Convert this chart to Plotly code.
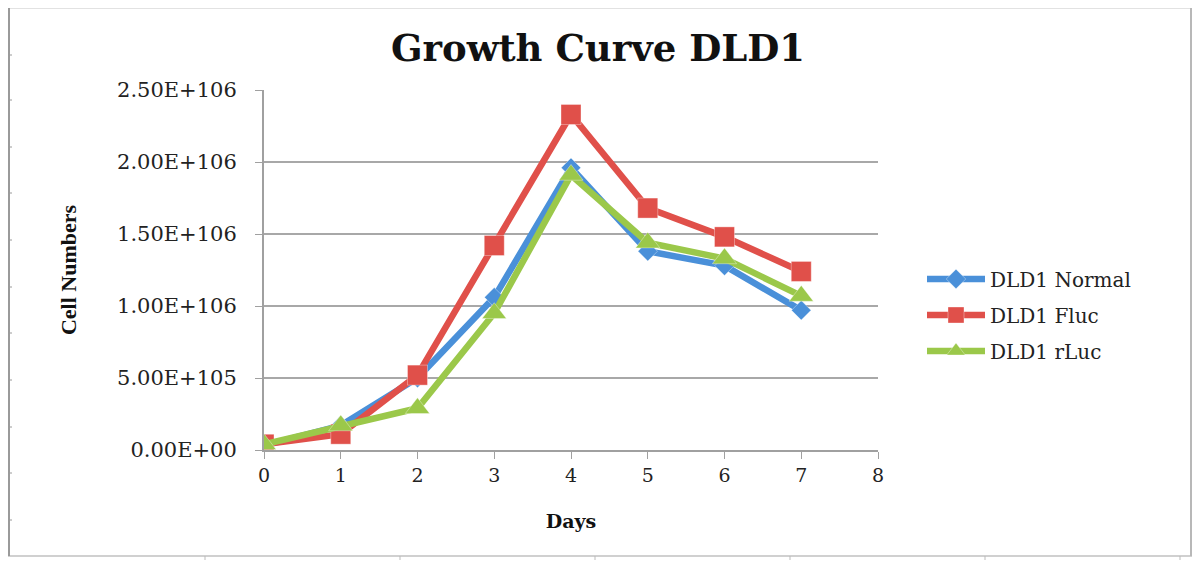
import plotly.graph_objects as go

days = [0, 1, 2, 3, 4, 5, 6, 7]
normal = [0.03e6, 0.17e6, 0.50e6, 1.06e6, 1.96e6, 1.38e6, 1.28e6, 0.97e6]
fluc = [0.04e6, 0.11e6, 0.52e6, 1.42e6, 2.33e6, 1.68e6, 1.48e6, 1.24e6]
rluc = [0.04e6, 0.17e6, 0.29e6, 0.95e6, 1.91e6, 1.44e6, 1.33e6, 1.07e6]

y_tickvals = [0, 0.5e6, 1.0e6, 1.5e6, 2.0e6, 2.5e6]
y_ticktext = ["0.00E+00", "5.00E+105", "1.00E+106", "1.50E+106", "2.00E+106", "2.50E+106"]
x_tickvals = [0, 1, 2, 3, 4, 5, 6, 7, 8]

series = [
    ("DLD1 Normal", normal, "#4a90d9", "diamond", 15, "legend"),
    ("DLD1 Fluc", fluc, "#e0504a", "square", 20, "legend2"),
    ("DLD1 rLuc", rluc, "#9bc84a", "triangle-up", 21, "legend3"),
]

fig = go.Figure()
for name, vals, col, sym, sz, lg in series:
    fig.add_trace(go.Scatter(
        x=days, y=vals, name=name, mode="lines+markers",
        line=dict(color=col, width=6.5),
        marker=dict(symbol=sym, size=sz, color=col,
                    line=dict(color="rgba(255,255,255,0.35)", width=1)),
        legend=lg,
    ))

serif = "DejaVu Serif"
# page has 8px body offset: figure coords = screen coords - 8
FW, FH = 1192, 557
L, R, T, B = 256, 870, 82, 442
pw, ph = R - L, B - T

def px(sx):
    return (sx - 8 - L) / pw

def py(sy):
    return (B - (sy - 8)) / ph

leg_common = dict(xanchor="left", yanchor="middle",
                  font=dict(family=serif, size=20, color="#222"),
                  bgcolor="rgba(0,0,0,0)", itemwidth=58)

fig.update_layout(
    width=FW, height=FH,
    paper_bgcolor="white", plot_bgcolor="white",
    margin=dict(l=L, r=FW - R, t=T, b=FH - B),
    title=dict(text="<b>Growth Curve DLD1</b>", x=px(598), xanchor="center",
               xref="paper", y=1 - (48 - 8) / FH, yanchor="middle",
               font=dict(family=serif, size=37, color="#111")),
    showlegend=True,
    legend=dict(x=px(922), y=py(279), **leg_common),
    legend2=dict(x=px(922), y=py(315), **leg_common),
    legend3=dict(x=px(922), y=py(351), **leg_common),
    xaxis=dict(range=[0, 8], tickvals=x_tickvals, showgrid=False,
               showline=True, linecolor="#a0a0a0", linewidth=2,
               ticks="outside", ticklen=7, tickcolor="#a0a0a0",
               tickfont=dict(family=serif, size=19, color="#222"),
               title=dict(text="<b>Days</b>", font=dict(family=serif, size=19, color="#111"),
                          standoff=30),
               zeroline=False),
    yaxis=dict(range=[0, 2.5e6], tickvals=y_tickvals, ticktext=y_ticktext,
               showgrid=True, gridcolor="#a8a8a8", gridwidth=2,
               showline=True, linecolor="#a0a0a0", linewidth=2,
               ticks="outside", ticklen=7, tickcolor="#a0a0a0",
               ticklabelstandoff=14,
               tickfont=dict(family=serif, size=21, color="#222"),
               title=dict(text="<b>Cell Numbers</b>",
                          font=dict(family="Liberation Serif", size=22, color="#111"),
                          standoff=34),
               zeroline=False),
)

# outer frame
fig.add_shape(type="line", xref="paper", yref="paper", x0=px(8), x1=px(1192), y0=py(8), y1=py(8),
              line=dict(color="#e2e2e2", width=2))
fig.add_shape(type="line", xref="paper", yref="paper", x0=px(8), x1=px(1192), y0=py(556), y1=py(556),
              line=dict(color="#d0d0d0", width=2))
fig.add_shape(type="line", xref="paper", yref="paper", x0=px(9), x1=px(9), y0=py(8), y1=py(556),
              line=dict(color="#9a9a9a", width=2))
fig.add_shape(type="line", xref="paper", yref="paper", x0=px(1191), x1=px(1191), y0=py(8), y1=py(556),
              line=dict(color="#b8b8b8", width=2))
for ty in [55, 100, 147, 193, 240, 287, 333, 380, 427, 473, 520]:
    fig.add_shape(type="line", xref="paper", yref="paper", x0=px(9), x1=px(12), y0=py(ty), y1=py(ty),
                  line=dict(color="#9a9a9a", width=1))
for tx in [205, 400, 595, 790, 985, 1180]:
    fig.add_shape(type="line", xref="paper", yref="paper", x0=px(tx), x1=px(tx), y0=py(556), y1=py(560),
                  line=dict(color="#bbbbbb", width=1))

fig.write_html("out.html")
